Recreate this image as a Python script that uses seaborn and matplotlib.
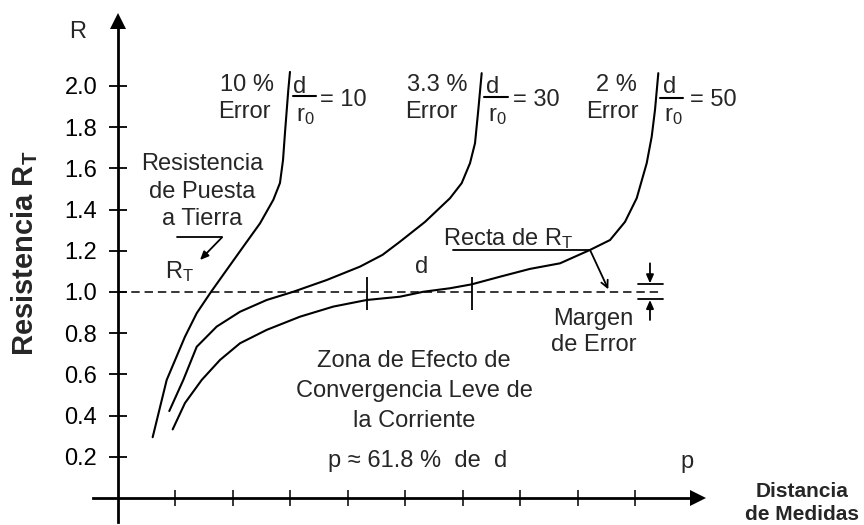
import numpy as np
import pandas as pd
import matplotlib
matplotlib.use("Agg")
import matplotlib.pyplot as plt
import seaborn as sns

# ---- data (distance in tick units, resistance R/R_T) ----
ratio_labels = ["10", "30", "50"]
error_labels = ["10 %", "3.3 %", "2 %"]

curve10_x = [0.603, 0.847, 1.165, 1.369, 1.617, 1.890, 2.179, 2.470, 2.701, 2.817, 2.870, 2.904, 2.962, 2.991]
curve10_y = [0.295, 0.573, 0.783, 0.897, 1.000, 1.107, 1.220, 1.333, 1.447, 1.529, 1.640, 1.772, 1.981, 2.068]

curve30_x = [0.892, 1.136, 1.369, 1.717, 2.122, 2.586, 3.049, 3.630, 4.209, 4.600, 4.904, 5.339, 5.774,
             5.977, 6.122, 6.209, 6.266, 6.325]
curve30_y = [0.422, 0.573, 0.734, 0.832, 0.904, 0.961, 1.001, 1.058, 1.123, 1.180, 1.244, 1.340, 1.455,
             1.528, 1.625, 1.722, 1.883, 2.062]

curve50_x = [0.951, 1.165, 1.456, 1.774, 2.122, 2.586, 3.165, 3.744, 4.325, 4.904, 5.310, 5.774,
             6.151, 6.643, 7.165, 7.687, 8.209, 8.557, 8.817, 9.021, 9.195, 9.282, 9.339, 9.397]
curve50_y = [0.333, 0.461, 0.573, 0.670, 0.751, 0.816, 0.880, 0.929, 0.961, 0.977, 1.001, 1.018,
             1.037, 1.074, 1.112, 1.139, 1.204, 1.252, 1.340, 1.455, 1.625, 1.754, 1.883, 2.062]

y_ticks = [0.2, 0.4, 0.6, 0.8, 1.0, 1.2, 1.4, 1.6, 1.8, 2.0]
x_ticks = [1, 2, 3, 4, 5, 6, 7, 8, 9]
rt_value = 1.0
d_marks = [4.334, 6.151]

df = pd.concat([
    pd.DataFrame({"x": curve10_x, "y": curve10_y, "curve": "10"}),
    pd.DataFrame({"x": curve30_x, "y": curve30_y, "curve": "30"}),
    pd.DataFrame({"x": curve50_x, "y": curve50_y, "curve": "50"}),
], ignore_index=True)

# ---- style ----
sns.set_style("white")
plt.rcParams["font.family"] = ["Liberation Sans", "DejaVu Sans"]
plt.rcParams["mathtext.fontset"] = "custom"
plt.rcParams["mathtext.rm"] = "Liberation Sans"
plt.rcParams["mathtext.it"] = "Liberation Sans:italic"
plt.rcParams["mathtext.bf"] = "Liberation Sans:bold"

FS = 17
fig = plt.figure(figsize=(8.64, 5.25), dpi=100)
ax = fig.add_axes([0, 0, 1, 1])
ax.set_xlim(-2.052, 12.974)
ax.set_ylim(-0.131, 2.417)
ax.patch.set_alpha(0)

sns.lineplot(data=df, x="x", y="y", units="curve", estimator=None, sort=False,
             color="black", lw=1.5, ax=ax, legend=False)

# ---- axes drawn as arrows through the origin ----
for s in ["top", "right"]:
    ax.spines[s].set_visible(False)
ax.spines["left"].set_position(("data", 0))
ax.spines["bottom"].set_position(("data", 0))
ax.spines["left"].set_bounds(-0.117, 2.30)
ax.spines["bottom"].set_bounds(-0.435, 10.0)
for s in ["left", "bottom"]:
    ax.spines[s].set_linewidth(2.0)
    ax.spines[s].set_color("black")
ax.plot([0], [2.315], marker="^", ms=12, color="black", mew=0, clip_on=False)
ax.plot([10.08], [0], marker=">", ms=12, color="black", mew=0, clip_on=False)

ax.set_yticks(y_ticks)
ax.set_yticklabels([f"{v:.1f}" for v in y_ticks])
ax.set_xticks(x_ticks)
ax.set_xticklabels([""] * len(x_ticks))
ax.tick_params(axis="y", direction="inout", length=13, width=1.3, pad=8.5,
               labelsize=FS, colors="black", left=True)
ax.tick_params(axis="x", direction="inout", length=11.5, width=1.3, bottom=True)
ax.set_xlabel("")
ax.set_ylabel("")

# R_T reference line
ax.hlines(rt_value, 0, 9.456, colors="black", lw=1.1, linestyles=(0, (5.5, 3.2)))

# marks bounding d on the 50 curve
ax.vlines(d_marks, 0.913, 1.075, colors="black", lw=1.3)

# ---- axis titles ----
ax.text(-0.701, 2.232, "R", fontsize=FS, ha="center", va="baseline")
ax.text(-1.617, 1.19, r"Resistencia R$_\mathbf{T}$", fontsize=21, fontweight="bold",
        rotation=90, ha="center", va="center")
ax.text(11.90, 0.005, "Distancia", fontsize=15, fontweight="bold", ha="center", va="baseline")
ax.text(11.90, -0.108, "de Medidas", fontsize=15, fontweight="bold", ha="center", va="baseline")
ax.text(9.896, 0.145, "p", fontsize=FS, ha="center", va="baseline")

# ---- curve labels: error % and d/r0 fraction ----
err_pos = [(2.243, 2.191), (5.548, 5.443), (8.661, 8.600)]
frac_d = [3.160, 6.513, 9.586]
frac_r = [3.252, 6.600, 9.657]
frac_bar = [(3.038, 3.438, 1.953), (6.365, 6.788, 1.948), (9.426, 9.821, 1.943)]
frac_eq = [3.513, 6.870, 9.948]
for i in range(3):
    ax.text(err_pos[i][0], 1.975, error_labels[i], fontsize=FS, ha="center", va="baseline")
    ax.text(err_pos[i][1], 1.845, "Error", fontsize=FS, ha="center", va="baseline")
    ax.text(frac_d[i], 1.966, "d", fontsize=FS, ha="center", va="baseline")
    ax.text(frac_r[i], 1.830, r"r$_\mathrm{0}$", fontsize=FS, ha="center", va="baseline")
    x0, x1, yb = frac_bar[i]
    ax.plot([x0, x1], [yb, yb], color="black", lw=1.5)
    ax.text(frac_eq[i], 1.903, "= " + ratio_labels[i], fontsize=FS, ha="left", va="baseline")

# ---- annotations ----
for txt, yy in [("Resistencia", 1.592), ("de Puesta", 1.456), ("a Tierra", 1.325)]:
    ax.text(1.462, yy, txt, fontsize=FS, ha="center", va="baseline")
ax.plot([1.02, 1.809], [1.265, 1.265], color="black", lw=1.3)
ax.annotate("", xy=(1.426, 1.155), xytext=(1.809, 1.265),
            arrowprops=dict(arrowstyle="-|>,head_length=0.5,head_width=0.22",
                            color="black", lw=1.3, shrinkA=0, shrinkB=0))
ax.text(0.817, 1.068, r"R$_\mathrm{T}$", fontsize=FS, ha="left", va="baseline")

ax.text(5.282, 1.091, "d", fontsize=FS, ha="center", va="baseline")

ax.text(5.658, 1.228, r"Recta de R$_\mathrm{T}$", fontsize=FS, ha="left", va="baseline")
ax.plot([5.826, 8.209], [1.204, 1.204], color="black", lw=1.3)
ax.annotate("", xy=(8.527, 1.013), xytext=(8.209, 1.204),
            arrowprops=dict(arrowstyle="->,head_length=0.5,head_width=0.25",
                            color="black", lw=1.3, shrinkA=0, shrinkB=0))

# error margin brackets
ax.plot([9.043, 9.473], [1.039, 1.039], color="black", lw=1.3)
ax.plot([9.043, 9.473], [0.965, 0.965], color="black", lw=1.3)
ax.annotate("", xy=(9.252, 1.042), xytext=(9.252, 1.139),
            arrowprops=dict(arrowstyle="-|>,head_length=0.5,head_width=0.22",
                            color="black", lw=1.3, shrinkA=0, shrinkB=0))
ax.annotate("", xy=(9.252, 0.961), xytext=(9.252, 0.864),
            arrowprops=dict(arrowstyle="-|>,head_length=0.5,head_width=0.22",
                            color="black", lw=1.3, shrinkA=0, shrinkB=0))
ax.text(8.261, 0.840, "Margen", fontsize=FS, ha="center", va="baseline")
ax.text(8.273, 0.714, "de Error", fontsize=FS, ha="center", va="baseline")

for txt, yy in [("Zona de Efecto de", 0.636), ("Convergencia Leve de", 0.490),
                ("la Corriente", 0.345)]:
    ax.text(5.148, yy, txt, fontsize=FS, ha="center", va="baseline")
ax.text(5.217, 0.150, "p \u2248 61.8 %  de  d", fontsize=FS, ha="center", va="baseline")

fig.savefig("out.png", dpi=100)
